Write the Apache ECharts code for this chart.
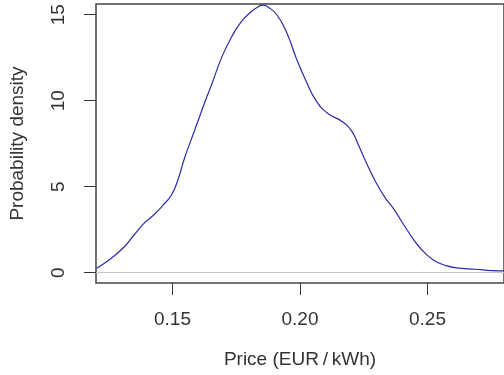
<!DOCTYPE html>
<html>
<head>
<meta charset="utf-8">
<script src="https://cdn.jsdelivr.net/npm/echarts@6/dist/echarts.min.js"></script>
<style>
html,body{margin:0;padding:0;background:#fff;}
#chart{width:504px;height:375px;}
</style>
</head>
<body>
<div id="chart"></div>
<script>
const priceValues = [0.1203,0.1260,0.1311,0.1349,0.1388,0.1426,0.1464,0.1496,0.1521,0.1547,0.1573,0.1604,0.1630,0.1655,0.1694,0.1732,0.1770,0.1808,0.1835,0.1856,0.1877,0.1910,0.1949,0.1987,0.2025,0.2063,0.2108,0.2166,0.2204,0.2229,0.2261,0.2293,0.2331,0.2370,0.2420,0.2472,0.2523,0.2573,0.2625,0.2688,0.2752,0.2800];
const densityValues = [0.26,0.84,1.51,2.19,2.87,3.35,3.94,4.52,5.39,6.65,7.72,8.98,10.04,11.0,12.56,13.72,14.59,15.17,15.45,15.55,15.42,14.98,13.92,12.4,11.1,10.0,9.27,8.78,8.2,7.42,6.36,5.39,4.42,3.65,2.48,1.42,0.74,0.41,0.26,0.2,0.12,0.1];
const xTickValues = [0.15, 0.20, 0.25];
const yTickValues = [0, 5, 10, 15];
const xTitle = 'Price (EUR\u2009/\u2009kWh)';
const yTitle = 'Probability density';

const seriesData = priceValues.map((p, i) => [p, densityValues[i]]);
const font = 'Liberation Sans, Arial, sans-serif';
const textColor = '#333';

const chart = echarts.init(document.getElementById('chart'), null, {renderer: 'canvas'});
chart.setOption({
  animation: false,
  backgroundColor: '#fff',
  grid: {
    left: 94, top: 4, width: 418, height: 279,
    show: true, borderColor: '#444', borderWidth: 1.5, backgroundColor: 'transparent'
  },
  xAxis: {
    type: 'value', min: 0.12, max: 0.28,
    name: xTitle, nameLocation: 'middle', nameGap: 67,
    nameTextStyle: {fontFamily: font, fontSize: 19, color: textColor},
    axisLine: {show: false, onZero: false},
    splitLine: {show: false},
    axisTick: {show: true, inside: false, length: 12, customValues: xTickValues, lineStyle: {color: '#333', width: 1}},
    axisLabel: {customValues: xTickValues, margin: 27, fontFamily: font, fontSize: 19, color: textColor,
      formatter: v => v.toFixed(2)}
  },
  yAxis: {
    type: 'value', min: -0.6, max: 15.62,
    name: yTitle, nameLocation: 'middle', nameGap: 69, nameRotate: 90,
    nameTextStyle: {fontFamily: font, fontSize: 19, color: textColor},
    axisLine: {show: false, onZero: false},
    splitLine: {show: false},
    axisTick: {show: true, inside: false, length: 12, customValues: yTickValues, lineStyle: {color: '#333', width: 1}},
    axisLabel: {customValues: yTickValues, rotate: 90, margin: 28, fontFamily: font, fontSize: 19, color: textColor,
      formatter: v => String(v)}
  },
  series: [{
    type: 'line',
    data: seriesData,
    smooth: 0.5,
    showSymbol: false,
    clip: true,
    lineStyle: {color: '#2b2ba8', width: 1.2},
    z: 3,
    markLine: {
      silent: true, symbol: ['none', 'none'], label: {show: false},
      lineStyle: {color: '#c4c4c4', width: 1.2, type: 'solid'},
      data: [{yAxis: 0}]
    }
  }]
});
</script>
</body>
</html>
